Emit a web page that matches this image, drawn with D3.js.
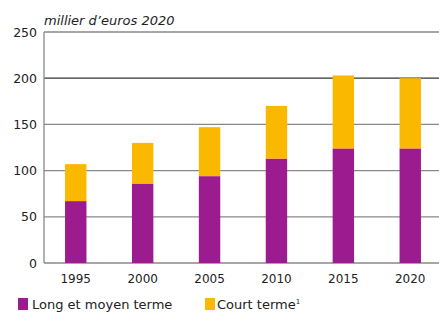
<!DOCTYPE html>
<html><head><meta charset="utf-8">
<script src="https://cdn.jsdelivr.net/npm/d3@7"></script>
<style>body{margin:0;background:#fff}svg{display:block}text{font-family:"DejaVu Sans",sans-serif}</style>
</head><body>
<svg id="c" width="439" height="313"></svg>
<script>
const categories = ["1995","2000","2005","2010","2015","2020"];
const longMoyen = [67, 86, 94, 113, 124, 124];
const courtTotal = [107, 130, 147, 170, 203, 200];
const court = courtTotal.map((t,i)=>t-longMoyen[i]);
const yTicks = [0,50,100,150,200,250];
const seriesNames = ["Long et moyen terme","Court terme"];
const colors = ["#9c1b8e","#fbb800"];

const svg = d3.select("#c");
const x = d3.scaleBand().domain(categories).range([42.3,443.7]).paddingInner(0.68).paddingOuter(0.34);
const y = d3.scaleLinear().domain([0,250]).range([263,32]);

// gridlines
svg.append("g").selectAll("line").data(yTicks).join("line")
  .attr("x1",44).attr("x2",439).attr("y1",d=>y(d)).attr("y2",d=>y(d))
  .attr("stroke",d=>d===200?"#333":"#888").attr("stroke-width",1.3);
svg.append("line").attr("x1",44).attr("x2",44).attr("y1",y(250)).attr("y2",y(0)).attr("stroke","#888").attr("stroke-width",1.3);

const stack = d3.stack().keys([0,1]).value((d,k)=>k===0?d.l:d.c);
const rows = categories.map((c,i)=>({cat:c,l:longMoyen[i],c:court[i]}));
const layers = stack(rows);
svg.append("g").selectAll("g").data(layers).join("g").attr("fill",(d,i)=>colors[i])
  .selectAll("rect").data(d=>d).join("rect")
  .attr("x",d=>x(d.data.cat)).attr("width",x.bandwidth())
  .attr("y",d=>y(d[1])).attr("height",d=>y(d[0])-y(d[1]));

// y labels
svg.append("g").selectAll("text").data(yTicks).join("text")
  .attr("x",37).attr("y",d=>y(d)+4.5).attr("text-anchor","end").attr("font-size",12.5).attr("fill","#222").text(d=>d);
// x labels
svg.append("g").selectAll("text").data(categories).join("text")
  .attr("x",d=>x(d)+x.bandwidth()/2).attr("y",283).attr("text-anchor","middle").attr("font-size",12).attr("fill","#222").text(d=>d);

svg.append("text").attr("x",44).attr("y",25).attr("font-size",13).attr("font-style","italic").attr("fill","#222").text("millier d’euros 2020");

// legend
const lg = [{x:18,tx:32,t:"Long et moyen terme",sup:false},{x:205,tx:217,t:"Court terme",sup:true}];
lg.forEach((d,i)=>{
  svg.append("rect").attr("x",d.x).attr("y",298).attr("width",10).attr("height",12).attr("fill",colors[i]);
  const t = svg.append("text").attr("x",d.tx).attr("y",309).attr("font-size",13).attr("fill","#222").text(d.t);
  if(d.sup) t.append("tspan").attr("font-size",7).attr("dy",-5).text("1");
});
</script>
</body></html>
